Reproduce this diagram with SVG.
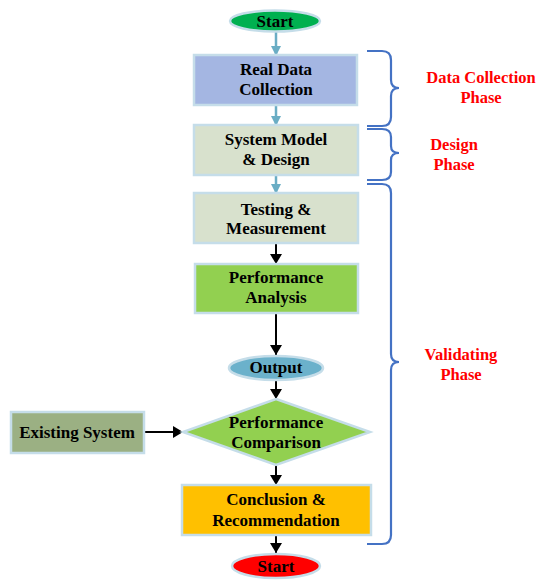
<svg xmlns="http://www.w3.org/2000/svg" width="540" height="580" viewBox="0 0 540 580">
<style>
.n{stroke:#c5dde9;stroke-width:2.5}
.t{font-family:'Liberation Serif',serif;font-weight:bold;font-size:17px;fill:#000;text-anchor:middle}
.r{font-family:'Liberation Serif',serif;font-weight:bold;font-size:16.5px;fill:#ff0000;text-anchor:middle}
.ct{stroke:#6aadc4;stroke-width:2.5;fill:none}
.cb{stroke:#000;stroke-width:2;fill:none}
.br{stroke:#4472c4;stroke-width:2.2;fill:none}
</style>
<defs>
<marker id="at" markerWidth="10" markerHeight="10" refX="9" refY="5" orient="auto" markerUnits="userSpaceOnUse"><path d="M0,0 L10,5 L0,10 Z" fill="#6aadc4"/></marker>
<marker id="ab" markerWidth="10" markerHeight="12" refX="10" refY="6" orient="auto" markerUnits="userSpaceOnUse"><path d="M0,0 L10,6 L0,12 Z" fill="#000"/></marker>
</defs>
<g id="connectors">
<path class="ct" d="M276,32 V55" marker-end="url(#at)"/>
<path class="ct" d="M276,105 V125" marker-end="url(#at)"/>
<path class="ct" d="M276,175 V193" marker-end="url(#at)"/>
<path class="cb" d="M276,243 V264" marker-end="url(#ab)"/>
<path class="cb" d="M276,313 V355" marker-end="url(#ab)"/>
<path class="cb" d="M276,380 V399" marker-end="url(#ab)"/>
<path class="cb" d="M144,432 H183" marker-end="url(#ab)"/>
<path class="cb" d="M276,465 V485" marker-end="url(#ab)"/>
<path class="cb" d="M276,535 V553" marker-end="url(#ab)"/>
</g>
<g id="start">
<ellipse class="n" cx="275" cy="21" rx="45" ry="10.5" fill="#00b050"/>
<text class="t" x="275" y="26.5">Start</text>
</g>
<g id="real-data">
<rect class="n" x="194" y="55" width="163" height="50" fill="#a4b6e2"/>
<text class="t" x="276" y="75">Real Data</text>
<text class="t" x="276" y="95">Collection</text>
</g>
<g id="system-model">
<rect class="n" x="194" y="125" width="164" height="50" fill="#d8e1cd"/>
<text class="t" x="276" y="145">System Model</text>
<text class="t" x="276" y="165">&amp; Design</text>
</g>
<g id="testing">
<rect class="n" x="194" y="193" width="164" height="50" fill="#d8e1cd"/>
<text class="t" x="276" y="215">Testing &amp;</text>
<text class="t" x="276" y="234">Measurement</text>
</g>
<g id="performance-analysis">
<rect class="n" x="195" y="264" width="163" height="49" fill="#92d050"/>
<text class="t" x="276" y="283">Performance</text>
<text class="t" x="276" y="303">Analysis</text>
</g>
<g id="output">
<ellipse class="n" cx="276" cy="368" rx="47" ry="12" fill="#6bb1cb"/>
<text class="t" x="276" y="373">Output</text>
</g>
<g id="comparison">
<polygon class="n" points="276,399 370,432 276,465 183,432" fill="#92d050"/>
<text class="t" x="276" y="428">Performance</text>
<text class="t" x="276" y="448">Comparison</text>
</g>
<g id="existing">
<rect class="n" x="11" y="412" width="133" height="41" fill="#9bb083"/>
<text class="t" x="77" y="438">Existing System</text>
</g>
<g id="conclusion">
<rect class="n" x="182" y="485" width="189" height="50" fill="#ffc000"/>
<text class="t" x="276" y="505">Conclusion &amp;</text>
<text class="t" x="276" y="526">Recommendation</text>
</g>
<g id="end">
<ellipse class="n" cx="276" cy="566" rx="44" ry="12" fill="#ff0000"/>
<text class="t" x="276" y="572">Start</text>
</g>
<g id="braces">
<path class="br" d="M367,51 H382 Q391,51 391,60 V80 Q391,88 399,88 Q391,88 391,96 V117 Q391,126 382,126 H367"/>
<path class="br" d="M367,129 H382 Q391,129 391,137 V146 Q391,153 399,153 Q391,153 391,160 V172 Q391,180 382,180 H367"/>
<path class="br" d="M367,184 H382 Q391,184 391,193 V354 Q391,362 399,362 Q391,362 391,370 V535 Q391,544 382,544 H367"/>
</g>
<g id="labels">
<text class="r" x="481" y="83">Data Collection</text>
<text class="r" x="481" y="103">Phase</text>
<text class="r" x="454" y="150">Design</text>
<text class="r" x="454" y="170">Phase</text>
<text class="r" x="461" y="360">Validating</text>
<text class="r" x="461" y="380">Phase</text>
</g>
</svg>
